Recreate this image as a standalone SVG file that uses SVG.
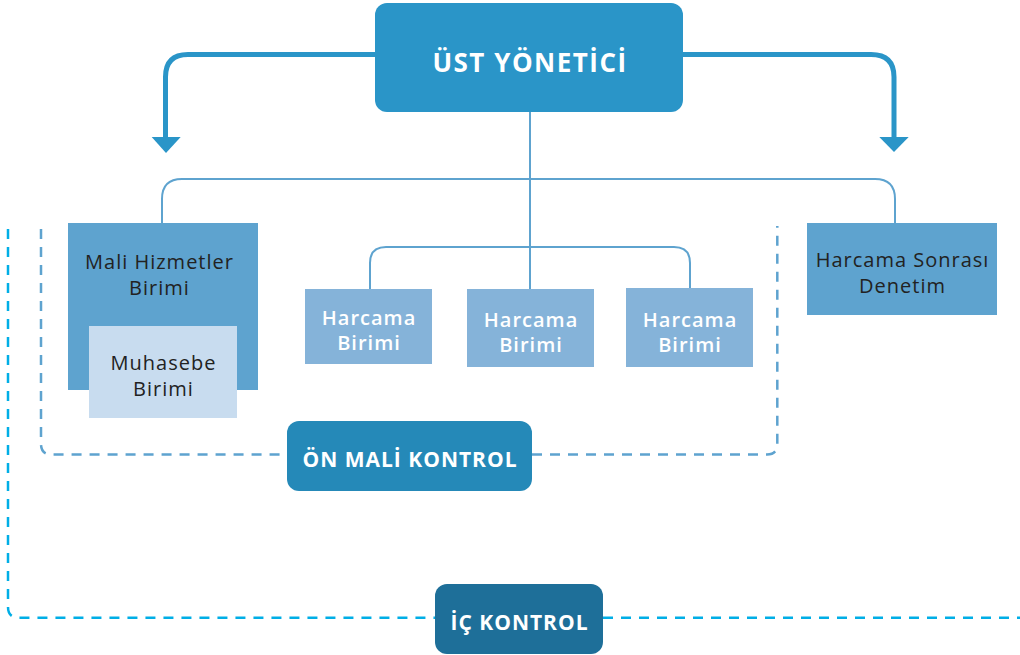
<svg xmlns="http://www.w3.org/2000/svg" width="1020" height="655" viewBox="0 0 1020 655">
<style>
.t{font-family:"Open Sans","Liberation Sans",sans-serif;text-anchor:middle;dominant-baseline:central}
.bw{fill:#ffffff;font-weight:700;letter-spacing:1px}
.mw{fill:#ffffff;font-weight:600;font-size:20px;letter-spacing:1px}
.dk{fill:#222222;font-weight:400;font-size:20px;letter-spacing:1px}
.thin{fill:none;stroke:#5ea3cf;stroke-width:2}
.thick{fill:none;stroke:#2a95c8;stroke-width:5}
.dash1{fill:none;stroke:#5ea3cf;stroke-width:2.5;stroke-dasharray:10 8}
.dash2{fill:none;stroke:#00aee6;stroke-width:2.5;stroke-dasharray:10 8}
.hb{fill:#85b3d9}
</style>
<rect width="1020" height="655" fill="#ffffff"/>
<g id="connectors">
<path class="thick" d="M375 54.5 H188 Q165.5 54.5 165.5 77 V140"/>
<polygon points="151.7,137 180.7,137 166,153" fill="#2a95c8"/>
<path class="thick" d="M683 54.5 H871 Q894 54.5 894 77 V140"/>
<polygon points="879.3,137 908.7,137 894,152" fill="#2a95c8"/>
<path class="thin" d="M530 112 V289"/>
<path class="thin" d="M162 223 V199 Q162 179 182 179 H875 Q895 179 895 199 V223"/>
<path class="thin" d="M370 289 V263 Q370 247 386 247 H674 Q690 247 690 263 V288"/>
<path class="dash1" d="M41 229 V444 Q41 454.5 51.5 454.5 H287"/>
<path class="dash1" d="M532 454.5 H767 Q777.3 454.5 777.3 444 V226"/>
<path class="dash2" d="M8 229 V607 Q8 617.7 18.7 617.7 H435"/>
<path class="dash2" d="M603 617.7 H1020"/>
</g>
<g id="ust-yonetici">
<rect x="375" y="3" width="308" height="109" rx="12" fill="#2a95c8"/>
<text class="t bw" x="530" y="62" font-size="26" style="letter-spacing:1.5px">ÜST YÖNETİCİ</text>
</g>
<g id="mali-hizmetler">
<rect x="68" y="223" width="190" height="167" fill="#5ea3cf"/>
<text class="t dk" x="159.5" y="261">Mali Hizmetler</text>
<text class="t dk" x="159.5" y="287">Birimi</text>
</g>
<g id="muhasebe">
<rect x="89" y="326" width="148" height="92" fill="#c8dcef"/>
<text class="t dk" x="163.5" y="362">Muhasebe</text>
<text class="t dk" x="163.5" y="388">Birimi</text>
</g>
<g id="harcama-1">
<rect class="hb" x="305" y="289" width="127" height="75"/>
<text class="t mw" x="369" y="317">Harcama</text>
<text class="t mw" x="369" y="342">Birimi</text>
</g>
<g id="harcama-2">
<rect class="hb" x="467" y="289" width="127" height="78"/>
<text class="t mw" x="531" y="319">Harcama</text>
<text class="t mw" x="531" y="344">Birimi</text>
</g>
<g id="harcama-3">
<rect class="hb" x="626" y="288" width="127" height="79"/>
<text class="t mw" x="690" y="319">Harcama</text>
<text class="t mw" x="690" y="344">Birimi</text>
</g>
<g id="harcama-sonrasi">
<rect x="807" y="223" width="190" height="92" fill="#5ea3cf"/>
<text class="t dk" x="902.5" y="259">Harcama Sonrası</text>
<text class="t dk" x="902.5" y="285">Denetim</text>
</g>
<g id="on-mali-kontrol">
<rect x="287" y="421" width="245" height="70" rx="12" fill="#2589b8"/>
<text class="t bw" x="410" y="459" font-size="21">ÖN MALİ KONTROL</text>
</g>
<g id="ic-kontrol">
<rect x="435" y="584" width="168" height="70" rx="12" fill="#1e6f99"/>
<text class="t bw" x="519.5" y="622" font-size="21">İÇ KONTROL</text>
</g>
</svg>
